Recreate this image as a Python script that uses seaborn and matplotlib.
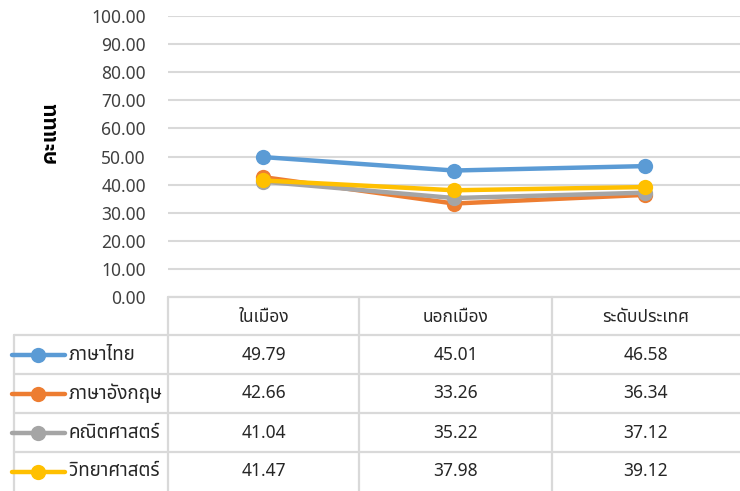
import matplotlib
matplotlib.use('Agg')
import matplotlib.pyplot as plt
from matplotlib import font_manager as fm
from matplotlib.lines import Line2D
import seaborn as sns
import pandas as pd

# data
categories = ['ในเมือง', 'นอกเมือง', 'ระดับประเทศ']
subjects = ['ภาษาไทย', 'ภาษาอังกฤษ', 'คณิตศาสตร์', 'วิทยาศาสตร์']
thai_scores = [49.79, 45.01, 46.58]
english_scores = [42.66, 33.26, 36.34]
math_scores = [41.04, 35.22, 37.12]
science_scores = [41.47, 37.98, 39.12]
y_ticks = [0, 10, 20, 30, 40, 50, 60, 70, 80, 90, 100]
y_label = 'คะแนน'
colors = ['#5B9BD5', '#ED7D31', '#A5A5A5', '#FFC000']

series = [thai_scores, english_scores, math_scores, science_scores]
df = pd.DataFrame({
    'area': categories * len(subjects),
    'score': [v for s in series for v in s],
    'subject': [name for name in subjects for _ in categories],
})

# pick a font that has Thai glyphs (prefer one that also has a bold face)
sns.set_style('white')
fonts = fm.fontManager.ttflist
names = {f.name for f in fonts}
cands = ['Noto Sans Thai', 'Noto Sans Thai UI', 'IBM Plex Sans Thai', 'Sarabun', 'Niramit']
thai_font = 'DejaVu Sans'
for cand in cands:
    if cand in names:
        thai_font = cand
        break
bold_font = thai_font
for cand in cands:
    if any(f.name == cand and f.weight in (700, 'bold') for f in fonts):
        bold_font = cand
        break
plt.rcParams['font.family'] = ['Noto Sans', thai_font, 'DejaVu Sans']

W, H = 740, 491
fig = plt.figure(figsize=(W / 100, H / 100), dpi=100)
x0, x1, ytop, ybot = 168, 740, 16, 297
ax = fig.add_axes([x0 / W, 1 - ybot / H, (x1 - x0) / W, (ybot - ytop) / H])

sns.lineplot(data=df, x='area', y='score', hue='subject', palette=colors,
             hue_order=subjects, sort=False, marker='o', markersize=11,
             markeredgewidth=0, linewidth=3.2, legend=False, ax=ax)

ax.set_xlim(-0.5, 2.5)
ax.set_ylim(0, 100)
ax.set_yticks(y_ticks)
ax.set_yticklabels([f'{t:.2f}' for t in y_ticks], fontsize=12.5, color='#404040')
ax.set_xticks([])
ax.set_xlabel('')
ax.set_ylabel('')
ax.tick_params(axis='y', length=0, pad=16)
ax.grid(axis='y', color='#d9d9d9', linewidth=1.5)
ax.set_axisbelow(True)
for sp in ax.spines.values():
    sp.set_visible(False)

fig.text(50 / W, 1 - 132 / H, y_label, rotation=90, fontsize=15,
         fontweight='bold', family=[bold_font, 'DejaVu Sans'],
         ha='center', va='center', color='black')

# data table under the axis
def fx(px):
    return px / W

def fy(py):
    return 1 - py / H

grid_c = '#d9d9d9'
col_edges = [168, 359, 552, 740]
row_edges = [297, 335, 374, 413, 452, 491]
lw = 1.6

def hline(xa, xb, y):
    fig.add_artist(Line2D([fx(xa), fx(xb)], [fy(y), fy(y)], color=grid_c, lw=lw))

def vline(x, ya, yb):
    fig.add_artist(Line2D([fx(x), fx(x)], [fy(ya), fy(yb)], color=grid_c, lw=lw))

hline(168, 740, row_edges[0])
for y in row_edges[1:-1]:
    hline(14, 740, y)
for x in col_edges[:-1]:
    vline(x, row_edges[0], row_edges[-1])
vline(14, row_edges[1], row_edges[-1])

col_centers = [(a + b) / 2 for a, b in zip(col_edges[:-1], col_edges[1:])]
for cx, cat in zip(col_centers, categories):
    fig.text(fx(cx), fy((row_edges[0] + row_edges[1]) / 2 + 1), cat,
             ha='center', va='center', fontsize=12.5, color='#262626')

for i, (name, vals, c) in enumerate(zip(subjects, series, colors)):
    cy = (row_edges[i + 1] + row_edges[i + 2]) / 2
    fig.add_artist(Line2D([fx(12), fx(65)], [fy(cy), fy(cy)], color=c, lw=3.2,
                          solid_capstyle='round'))
    fig.add_artist(Line2D([fx(38)], [fy(cy)], color=c, marker='o',
                          markersize=11, markeredgewidth=0))
    fig.text(fx(69), fy(cy), name, ha='left', va='center', fontsize=13.5,
             color='#262626')
    for cx, v in zip(col_centers, vals):
        fig.text(fx(cx), fy(cy), f'{v:.2f}', ha='center', va='center',
                 fontsize=12.5, color='#262626')

fig.savefig('out.png', dpi=100)
